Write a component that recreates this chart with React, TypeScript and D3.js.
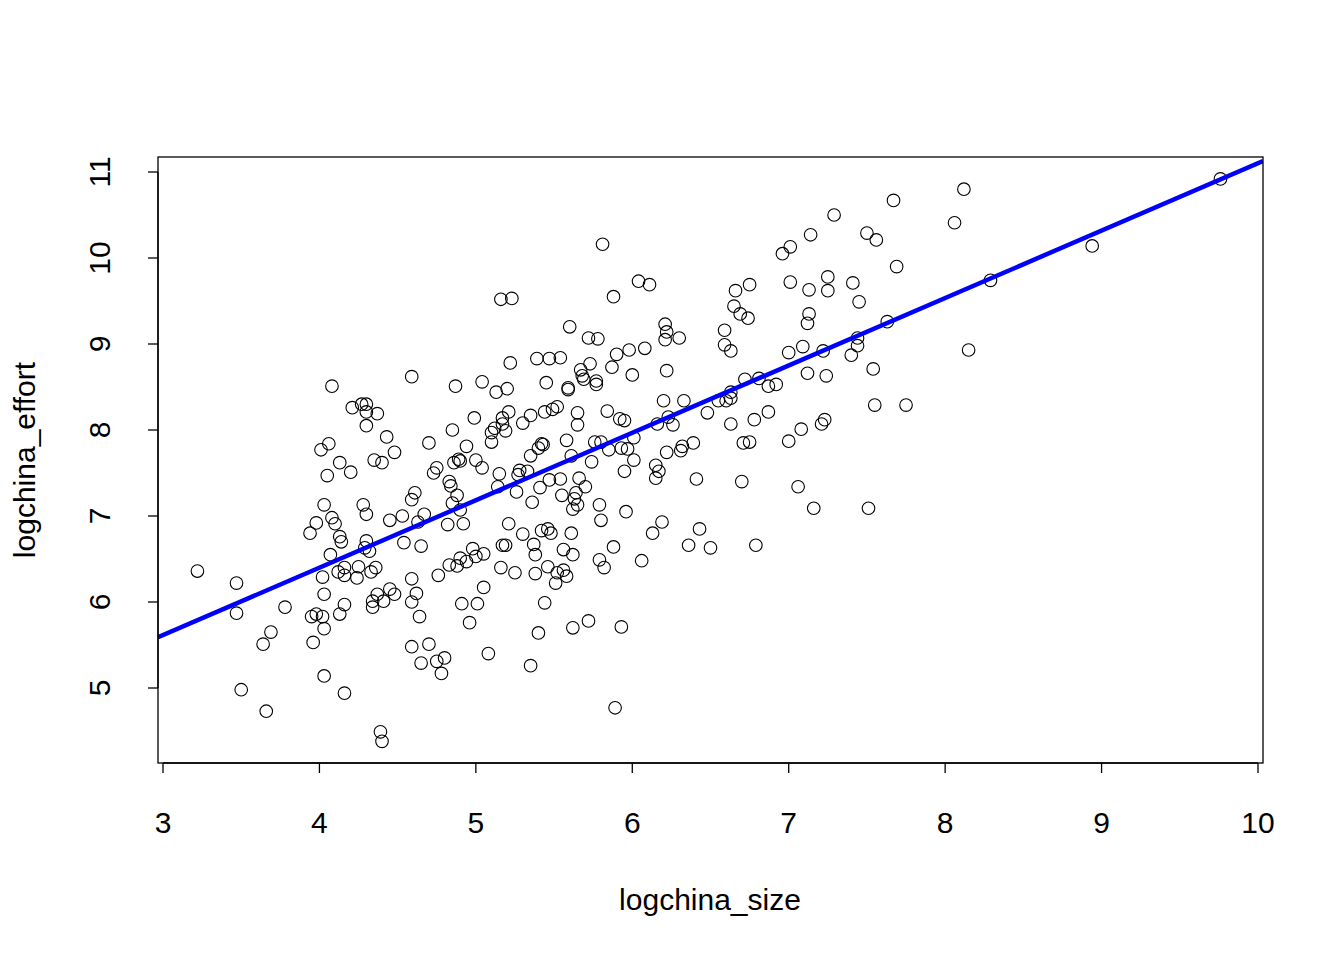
import React from "react";
import * as d3 from "d3";

// logchina_size, logchina_effort pairs
const points: [number, number][] = [
  [3.22,6.36],[3.47,6.22],[3.47,5.87],[3.5,4.98],[3.66,4.73],[3.64,5.51],[3.69,5.65],[3.78,5.94],
  [3.94,6.8],[3.98,6.92],[3.95,5.83],[3.96,5.53],[3.98,5.86],[4.01,7.77],[4.02,6.29],[4.03,6.09],
  [4.03,7.13],[4.03,5.69],[4.03,5.14],[4.02,5.83],[4.06,7.84],[4.05,7.47],[4.07,6.55],[4.08,8.51],
  [4.08,6.98],[4.1,6.91],[4.12,6.35],[4.13,6.76],[4.13,7.62],[4.13,5.86],[4.14,6.7],[4.16,6.4],
  [4.16,4.94],[4.16,5.97],[4.16,6.31],[4.2,7.51],[4.21,8.26],[4.24,6.28],[4.25,6.41],[4.27,8.3],
  [4.28,7.13],[4.29,6.63],[4.3,6.71],[4.3,8.3],[4.3,8.21],[4.3,8.05],[4.3,7.02],[4.32,6.59],
  [4.33,6.35],[4.34,5.94],[4.34,6.01],[4.35,7.65],[4.36,6.4],[4.37,8.19],[4.37,6.09],[4.39,4.49],
  [4.4,7.62],[4.4,4.38],[4.41,6.01],[4.43,7.92],[4.45,6.95],[4.45,6.15],[4.48,7.74],[4.48,6.09],
  [4.53,7.0],[4.54,6.69],[4.59,8.62],[4.59,7.19],[4.61,7.27],[4.59,6.27],[4.59,5.48],[4.59,6.0],
  [4.62,6.1],[4.63,6.93],[4.64,5.83],[4.65,5.29],[4.65,6.65],[4.67,7.02],[4.7,7.85],[4.7,5.51],
  [4.73,7.5],[4.75,5.31],[4.75,7.56],[4.76,6.31],[4.78,5.17],[4.8,5.35],[4.82,6.9],[4.83,6.43],
  [4.83,7.4],[4.84,7.35],[4.85,7.15],[4.85,8.0],[4.86,7.62],[4.87,8.51],[4.88,7.24],[4.88,6.42],
  [4.89,7.66],[4.9,7.07],[4.9,7.64],[4.9,6.51],[4.91,5.98],[4.92,6.91],[4.94,7.81],[4.94,6.47],
  [4.96,5.76],[4.98,6.62],[4.99,8.14],[5.0,7.65],[5.0,6.53],[5.01,5.98],[5.04,7.56],[5.04,8.56],
  [5.05,6.17],[5.05,6.56],[5.08,5.4],[5.1,7.97],[5.1,7.86],[5.12,8.02],[5.13,8.44],[5.14,7.34],
  [5.15,7.49],[5.16,9.52],[5.16,6.4],[5.17,8.14],[5.17,8.07],[5.17,6.66],[5.19,6.66],[5.19,7.99],
  [5.2,8.48],[5.21,8.21],[5.21,6.91],[5.22,8.78],[5.23,9.53],[5.25,6.34],[5.26,7.28],[5.27,7.48],
  [5.28,7.53],[5.3,6.79],[5.3,8.08],[5.33,7.52],[5.35,5.26],[5.35,7.7],[5.35,8.17],[5.36,7.16],
  [5.37,6.67],[5.38,6.33],[5.38,6.55],[5.39,8.83],[5.4,5.64],[5.4,7.79],[5.41,7.33],[5.42,7.84],
  [5.42,6.83],[5.43,7.83],[5.44,8.21],[5.44,5.99],[5.45,8.55],[5.46,6.85],[5.46,6.41],[5.47,8.83],
  [5.47,7.42],[5.48,6.8],[5.49,8.24],[5.51,6.22],[5.52,8.27],[5.52,6.34],[5.54,8.84],[5.54,7.43],
  [5.55,7.24],[5.56,6.61],[5.56,6.37],[5.58,6.3],[5.58,7.88],[5.59,8.47],[5.59,8.49],[5.6,9.2],
  [5.61,6.8],[5.61,7.7],[5.62,6.55],[5.62,7.08],[5.62,5.7],[5.63,7.2],[5.64,7.27],[5.65,8.2],
  [5.65,8.06],[5.65,7.13],[5.66,7.44],[5.67,8.7],[5.68,8.63],[5.69,8.59],[5.7,7.34],[5.72,5.78],
  [5.72,9.07],[5.73,8.77],[5.74,7.63],[5.76,7.86],[5.77,8.57],[5.77,8.53],[5.78,9.06],[5.79,7.13],
  [5.79,6.49],[5.8,6.95],[5.8,7.86],[5.81,10.16],[5.82,6.4],[5.84,8.22],[5.85,7.77],[5.87,8.73],
  [5.88,9.55],[5.88,6.64],[5.89,4.77],[5.9,8.88],[5.92,8.13],[5.93,5.71],[5.93,7.79],[5.95,7.52],
  [5.95,8.11],[5.96,7.05],[5.97,7.78],[5.98,8.93],[6.0,8.64],[6.01,7.91],[6.01,7.65],[6.04,9.73],
  [6.06,6.48],[6.08,8.95],[6.11,9.69],[6.13,6.8],[6.15,7.44],[6.15,7.59],[6.16,8.07],[6.17,7.52],
  [6.19,6.93],[6.2,8.34],[6.21,9.23],[6.21,9.05],[6.22,9.14],[6.22,8.69],[6.22,7.74],[6.23,8.15],
  [6.26,8.06],[6.3,9.07],[6.31,7.76],[6.32,7.81],[6.33,8.34],[6.36,6.66],[6.39,7.85],[6.41,7.43],
  [6.43,6.85],[6.48,8.2],[6.5,6.63],[6.55,8.34],[6.59,9.16],[6.59,8.99],[6.6,8.34],[6.63,8.92],
  [6.63,8.37],[6.63,8.44],[6.63,8.07],[6.65,9.44],[6.66,9.62],[6.69,9.35],[6.7,7.4],[6.71,7.85],
  [6.72,8.59],[6.74,9.3],[6.75,9.69],[6.75,7.86],[6.78,8.12],[6.79,6.66],[6.81,8.6],[6.87,8.51],
  [6.87,8.21],[6.92,8.53],[6.96,10.05],[7.0,7.87],[7.0,8.9],[7.01,9.72],[7.01,10.13],[7.06,7.34],
  [7.08,8.01],[7.09,8.97],[7.12,8.66],[7.12,9.24],[7.13,9.35],[7.13,9.63],[7.14,10.27],[7.16,7.09],
  [7.21,8.07],[7.22,8.92],[7.23,8.12],[7.24,8.63],[7.25,9.62],[7.25,9.78],[7.29,10.5],[7.4,8.87],
  [7.41,9.71],[7.44,8.98],[7.44,9.07],[7.45,9.49],[7.5,10.29],[7.51,7.09],[7.54,8.71],[7.55,8.29],
  [7.56,10.21],[7.63,9.26],[7.67,10.67],[7.69,9.9],[7.75,8.29],[8.06,10.41],[8.12,10.8],[8.15,8.93],
  [8.29,9.74],[8.94,10.14],[9.76,10.92],
];

const fitIntercept = 3.263;
const fitSlope = 0.784;
const xTicks = [3, 4, 5, 6, 7, 8, 9, 10];
const yTicks = [5, 6, 7, 8, 9, 10, 11];

const BOX = { left: 158, right: 1263, top: 157, bottom: 763 };
const FONT = "Liberation Sans, Arial, sans-serif";
const FS = 30;

export default function App() {
  const x = d3.scaleLinear().domain([3, 10]).range([163, 1258]);
  const y = d3.scaleLinear().domain([5, 11]).range([688, 172]);
  const x0 = x.invert(BOX.left);
  const x1 = x.invert(BOX.right);

  return (
    <svg
      width={1344}
      height={960}
      style={{ position: "absolute", left: 0, top: 0, background: "white" }}
      fontFamily={FONT}
    >
      <defs>
        <clipPath id="plot">
          <rect x={BOX.left} y={BOX.top} width={BOX.right - BOX.left} height={BOX.bottom - BOX.top} />
        </clipPath>
      </defs>
      {points.map(([px, py], i) => (
        <circle key={i} cx={x(px)} cy={y(py)} r={6.3} fill="none" stroke="black" strokeWidth={1.1} />
      ))}
      <line
        clipPath="url(#plot)"
        x1={x(x0)}
        y1={y(fitIntercept + fitSlope * x0)}
        x2={x(x1)}
        y2={y(fitIntercept + fitSlope * x1)}
        stroke="#0000ff"
        strokeWidth={4.5}
      />
      <rect
        x={BOX.left}
        y={BOX.top}
        width={BOX.right - BOX.left}
        height={BOX.bottom - BOX.top}
        fill="none"
        stroke="black"
        strokeWidth={1.3}
      />
      {/* x axis */}
      <line x1={x(3)} x2={x(10)} y1={BOX.bottom} y2={BOX.bottom} stroke="black" strokeWidth={1.3} />
      {xTicks.map((t) => (
        <g key={t}>
          <line x1={x(t)} x2={x(t)} y1={BOX.bottom} y2={BOX.bottom + 10} stroke="black" strokeWidth={1.3} />
          <text x={x(t)} y={833} fontSize={FS} textAnchor="middle">{t}</text>
        </g>
      ))}
      <text x={710} y={910} fontSize={FS} textAnchor="middle">logchina_size</text>
      {/* y axis */}
      <line x1={BOX.left} x2={BOX.left} y1={y(5)} y2={y(11)} stroke="black" strokeWidth={1.3} />
      {yTicks.map((t) => (
        <g key={t}>
          <line x1={BOX.left - 10} x2={BOX.left} y1={y(t)} y2={y(t)} stroke="black" strokeWidth={1.3} />
          <text
            transform={`translate(110,${y(t)}) rotate(-90)`}
            fontSize={FS}
            textAnchor="middle"
          >
            {t}
          </text>
        </g>
      ))}
      <text transform="translate(35,460) rotate(-90)" fontSize={FS} textAnchor="middle">
        logchina_effort
      </text>
    </svg>
  );
}
